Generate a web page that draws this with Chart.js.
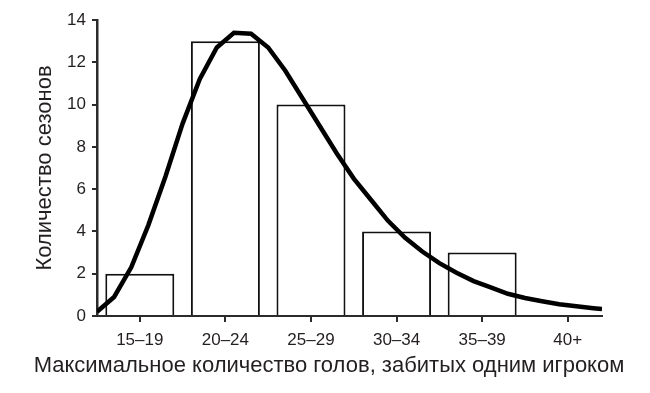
<!DOCTYPE html>
<html>
<head>
<meta charset="utf-8">
<script src="https://cdn.jsdelivr.net/npm/chart.js@4.4.0/dist/chart.umd.min.js"></script>
<style>
  html, body { margin: 0; padding: 0; background: #fff; }
  #wrap { width: 650px; height: 393px; }
</style>
</head>
<body>
<div id="wrap"><canvas id="goalsChart"></canvas></div>
<script>
// Histogram data
const categories = ['15–19', '20–24', '25–29', '30–34', '35–39', '40+'];
const categoryCenters = [17, 22, 27, 32, 37, 42];   // goals, middle of each bin
const seasonCounts = [2, 13, 10, 4, 3, 0];

// Fitted curve (x in goals)
const curveGoals = [14.5, 15.5, 16.5, 17.5, 18.5, 19.5, 20.5, 21.5, 22.5, 23.5,
                    24.5, 25.5, 26.5, 27.5, 28.5, 29.5, 30.5, 31.5, 32.5, 33.5,
                    34.5, 35.5, 36.5, 37.5, 38.5, 39.5, 40.5, 41.5, 42.5, 43.5, 44];
const curveValues = [0.2, 0.9, 2.3, 4.3, 6.6, 9.1, 11.2, 12.7, 13.4, 13.35,
                     12.7, 11.6, 10.3, 9.0, 7.7, 6.5, 5.5, 4.5, 3.7, 3.05,
                     2.5, 2.05, 1.65, 1.35, 1.05, 0.85, 0.7, 0.56, 0.46, 0.37, 0.33];

const yMin = 0;
const yMax = 14;
const yStep = 2;

const textColor = '#231f20';
const axisColor = '#2b2b2b';
const fontFamily = '"Liberation Sans", Arial, Helvetica, sans-serif';

document.addEventListener('DOMContentLoaded', () => {
    const ctx = document.getElementById('goalsChart').getContext('2d');
    new Chart(ctx, {
        data: {
            datasets: [{
                type: 'line',
                label: 'curve',
                data: curveGoals.map((g, i) => ({ x: g, y: curveValues[i] })),
                borderColor: '#000',
                borderWidth: 4.5,
                pointRadius: 0,
                tension: 0,
                fill: false,
                order: 0
            }, {
                type: 'bar',
                label: 'seasons',
                data: categoryCenters.map((c, i) => ({ x: c, y: seasonCounts[i] })),
                backgroundColor: '#fff',
                borderColor: '#111',
                borderWidth: 2,
                categoryPercentage: 1,
                barPercentage: 0.806,
                order: 1
            }]
        },
        options: {
            responsive: true,
            maintainAspectRatio: false,
            animation: false,
            layout: { padding: { top: 20, right: 0, bottom: 0, left: 8 } },
            plugins: {
                legend: { display: false },
                tooltip: { enabled: false },
                // x-axis caption is centred on the whole figure, so use the title box
                title: {
                    display: true,
                    position: 'bottom',
                    fullSize: true,
                    text: 'Максимальное количество голов, забитых одним игроком',
                    color: textColor,
                    font: { family: fontFamily, size: 22, weight: 'normal' },
                    padding: { top: 0, bottom: 13.4 }
                }
            },
            scales: {
                x: {
                    type: 'linear',
                    min: 14.5,
                    max: 44,
                    offset: false,
                    afterBuildTicks: (scale) => {
                        scale.ticks = categoryCenters.map(v => ({ value: v }));
                    },
                    afterFit: (scale) => { scale.height = 37.2; },
                    ticks: {
                        autoSkip: false,
                        maxRotation: 0,
                        padding: 8,
                        color: textColor,
                        font: { family: fontFamily, size: 17 },
                        callback: (value) => categories[categoryCenters.indexOf(value)]
                    },
                    grid: {
                        offset: false,
                        drawOnChartArea: false,
                        drawTicks: true,
                        tickLength: 6,
                        color: axisColor,
                        lineWidth: 2
                    },
                    border: { display: true, color: axisColor, width: 2 }
                },
                y: {
                    min: yMin,
                    max: yMax,
                    afterFit: (scale) => { scale.width = 89; },
                    ticks: {
                        stepSize: yStep,
                        padding: 6,
                        color: textColor,
                        font: { family: fontFamily, size: 17 }
                    },
                    grid: {
                        drawOnChartArea: false,
                        drawTicks: true,
                        tickLength: 5,
                        color: axisColor,
                        lineWidth: 2
                    },
                    border: { display: true, color: axisColor, width: 2.5 },
                    title: {
                        display: true,
                        text: 'Количество сезонов',
                        color: textColor,
                        font: { family: fontFamily, size: 22 },
                        padding: { top: 23.9, bottom: 0 }
                    }
                },
                // empty right-hand strip so the plot ends where the original does
                spacer: {
                    type: 'linear',
                    position: 'right',
                    afterFit: (scale) => { scale.width = 48; },
                    ticks: { display: false },
                    grid: { display: false },
                    border: { display: false }
                }
            }
        }
    });
});
</script>
</body>
</html>
